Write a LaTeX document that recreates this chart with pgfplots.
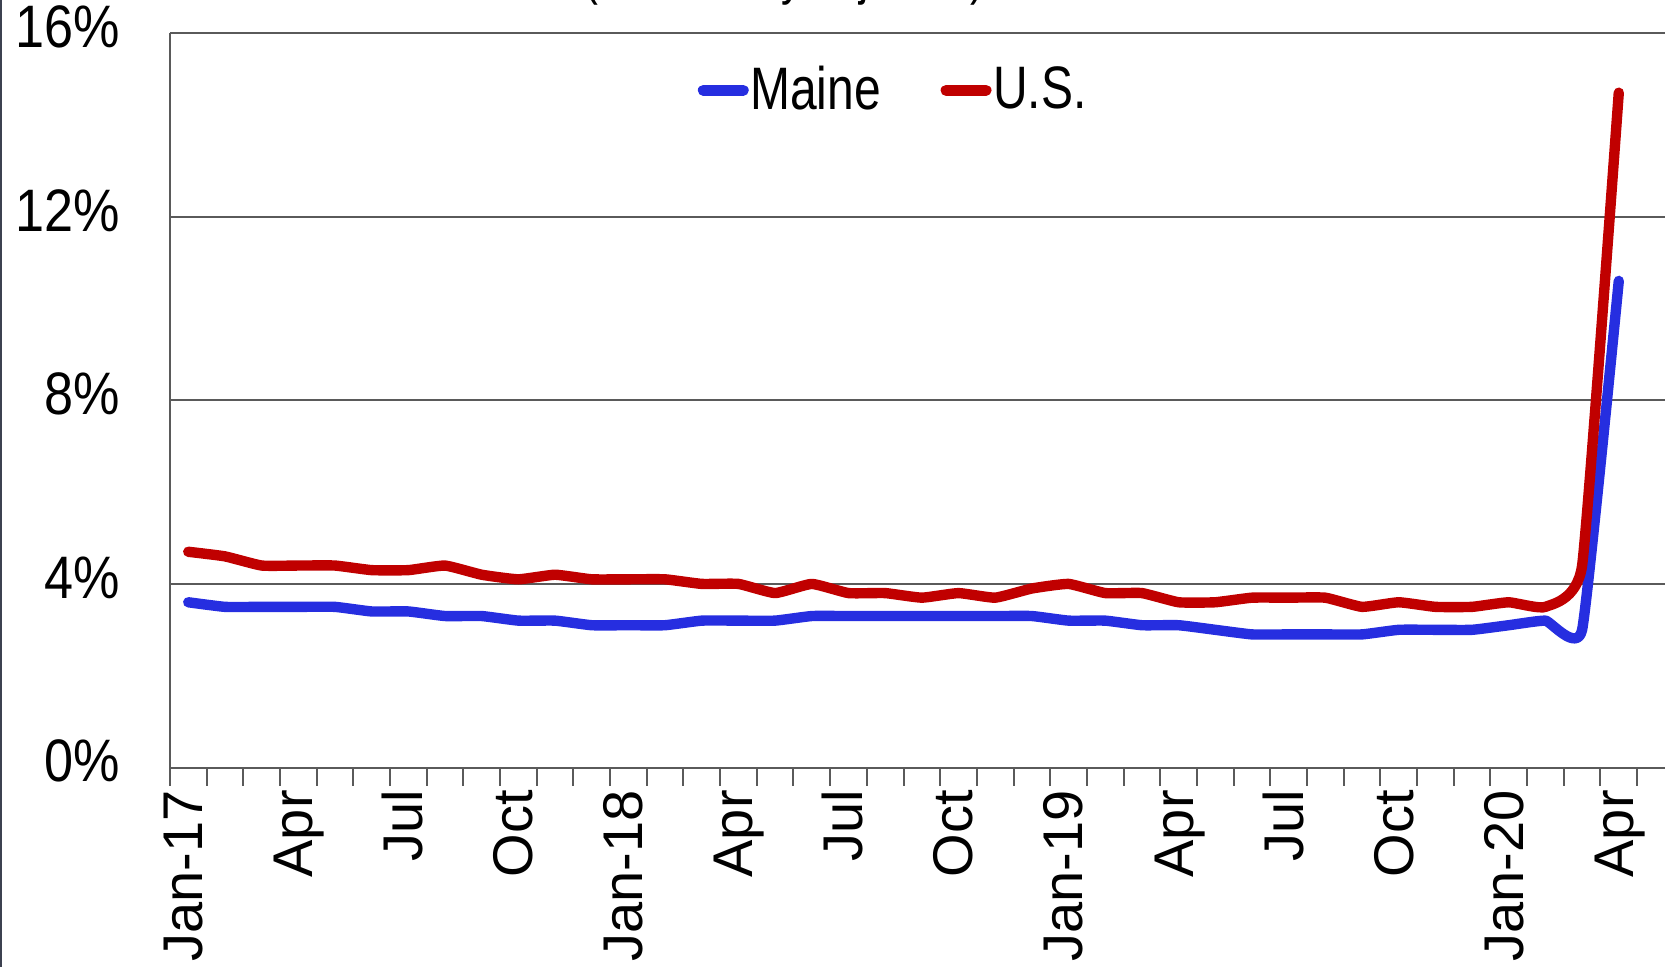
\documentclass[border=0pt]{standalone}
\usepackage{fontspec}
\setmainfont{Liberation Sans}
\newfontfamily\narrowfont[FakeStretch=0.8]{Liberation Sans}
\newfontfamily\tickfont[FakeStretch=0.87]{Liberation Sans}
\usepackage{pgfplots}
\usepackage{pgfplotstable}
\pgfplotsset{compat=1.18}

\definecolor{maineblue}{RGB}{38,46,224}
\definecolor{usred}{RGB}{192,0,0}
\definecolor{gridgray}{RGB}{90,90,90}
\definecolor{edgegray}{RGB}{60,65,80}

% monthly unemployment rate, Jan-17 (0) .. Apr-20 (39)
\pgfplotstableread{
idx maine us
0  3.6 4.7
1  3.5 4.6
2  3.5 4.4
3  3.5 4.4
4  3.5 4.4
5  3.4 4.3
6  3.4 4.3
7  3.3 4.4
8  3.3 4.2
9  3.2 4.1
10 3.2 4.2
11 3.1 4.1
12 3.1 4.1
13 3.1 4.1
14 3.2 4.0
15 3.2 4.0
16 3.2 3.8
17 3.3 4.0
18 3.3 3.8
19 3.3 3.8
20 3.3 3.7
21 3.3 3.8
22 3.3 3.7
23 3.3 3.9
24 3.2 4.0
25 3.2 3.8
26 3.1 3.8
27 3.1 3.6
28 3.0 3.6
29 2.9 3.7
30 2.9 3.7
31 2.9 3.7
32 2.9 3.5
33 3.0 3.6
34 3.0 3.5
35 3.0 3.5
36 3.1 3.6
37 3.2 3.5
38 3.0 4.4
39 10.6 14.7
}\ratedata

\begin{document}
\begin{tikzpicture}
\begin{axis}[
    at={(0pt,0pt)}, anchor=south west,
    scale only axis,
    width=374pt, height=183.75pt,
    xmin=-0.5, xmax=40.26,
    ymin=0, ymax=16,
    axis lines=left,
    axis line style={-, draw=gridgray, line width=0.5pt},
    xtick={-0.5,0.5,...,39.5},
    xticklabels={},
    x tick style={draw=gridgray, line width=0.5pt},
    xtick align=outside,
    major tick length=4.5pt,
    extra x ticks={0,3,...,39},
    extra x tick labels={Jan-17,Apr,Jul,Oct,Jan-18,Apr,Jul,Oct,Jan-19,Apr,Jul,Oct,Jan-20,Apr},
    extra x tick style={major tick length=0pt, grid=none},
    xticklabel shift=5.5pt,
    xticklabel style={rotate=90, anchor=east, font=\fontsize{14pt}{16pt}\selectfont,
      inner sep=0pt, text height=0.72em, text depth=0pt},
    ytick={0,4,8,12,16},
    yticklabels={0\%,4\%,8\%,12\%,16\%},
    ytick style={draw=none},
    yticklabel shift=10pt,
    yticklabel style={anchor=east, font=\tickfont\fontsize{15pt}{18pt}\selectfont,
      inner sep=0pt, text height=0.72em, text depth=0pt},
    ymajorgrids,
    major grid style={draw=gridgray, line width=0.5pt},
    legend columns=2,
    legend cell align=left,
    legend image code/.code={\draw[#1, line width=2.75pt] (0pt,0pt) -- (10pt,0pt);},
    legend style={draw=none, fill=none, at={(0.4836,0.922)}, anchor=center,
      font=\narrowfont\fontsize{15pt}{18pt}\selectfont,
      nodes={inner xsep=0.4pt},
      column sep=0pt,
      /tikz/every even column/.append style={column sep=14.5pt}},
  ]
  \addplot[maineblue, line width=2.6pt, smooth, tension=0.25, line cap=round, line join=round]
    table[x=idx, y=maine] {\ratedata};
  \addlegendentry{Maine}
  \addplot[usred, line width=2.6pt, smooth, tension=0.25, line cap=round, line join=round]
    table[x=idx, y=us] {\ratedata};
  \addlegendentry{U.S.}
\end{axis}
% title, cut off by the top edge as in the source
\begin{scope}
  \clip (-42.5pt,-50pt) rectangle (374pt,192pt);
  \node[overlay, anchor=base, inner sep=0pt, font=\narrowfont\fontsize{13pt}{16pt}\selectfont]
    at (153.75pt,193.4pt) {(Seasonally adjusted)};
\end{scope}
\fill[edgegray] (-42.5pt,-50pt) rectangle (-41.9pt,192pt);
\useasboundingbox (-42.5pt,-50pt) rectangle (374pt,192pt);
\end{tikzpicture}
\end{document}
